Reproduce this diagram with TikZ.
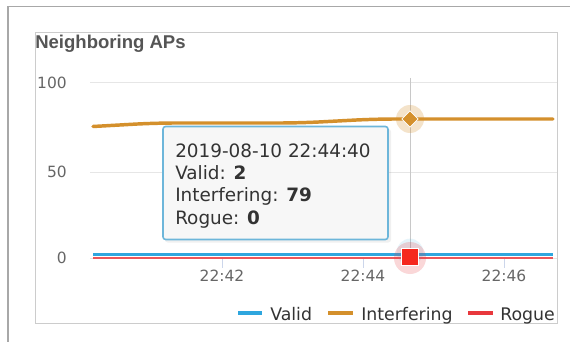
\documentclass[tikz,border=0pt]{standalone}
\usepackage{fontspec}
\setmainfont{DejaVu Sans}
\newfontfamily\titlefont{Liberation Sans}
\usetikzlibrary{shapes.geometric}
\definecolor{validc}{HTML}{2EA6DE}
\definecolor{interc}{HTML}{D4902C}
\definecolor{roguec}{HTML}{E8383D}
\definecolor{squarec}{HTML}{F5281E}
\definecolor{gridc}{HTML}{E6E6E6}
\definecolor{tickc}{HTML}{CCD6EB}
\definecolor{crossc}{HTML}{C8C8C8}
\definecolor{framec}{HTML}{A8A8A8}
\definecolor{panelc}{HTML}{CCCCCC}
\definecolor{tipborder}{HTML}{6DB6DA}
\definecolor{tipfill}{HTML}{F7F7F7}
\definecolor{titlec}{HTML}{555555}
\definecolor{axisc}{HTML}{666666}
\definecolor{textc}{HTML}{333333}
\tikzset{
  axislbl/.style={inner sep=0pt, text=axisc, font=\fontsize{11.6}{13}\selectfont},
  tiptext/.style={inner sep=0pt, anchor=base west, text=textc, font=\fontsize{13.8}{15}\selectfont},
  legtext/.style={inner sep=0pt, anchor=base west, text=textc, font=\fontsize{13}{15}\selectfont},
  gridline/.style={gridc, line width=0.75pt},
  tickmark/.style={tickc, line width=0.75pt},
  legdash/.style={line width=2.4pt},
}
\begin{document}
\begin{tikzpicture}[x=0.75pt,y=-0.75pt]
\useasboundingbox (0,0) rectangle (570,342);
\fill[white] (0,0) rectangle (570,342);
% outer frame
\draw[framec, line width=0.9pt] (8,343) -- (8,6.5) -- (571,6.5);
% inner panel
\draw[panelc, line width=0.75pt] (35,33) rectangle (557,323);
% title
\node[inner sep=0pt, anchor=base west, text=titlec, font=\titlefont\bfseries\fontsize{13.9}{16}\selectfont] (title) at (35,49) {Neighboring APs};
% grid lines
\draw[gridline] (90,83) -- (557,83);
\draw[gridline] (90,172) -- (557,172);
\draw[gridline] (90,258) -- (557,258);
% y labels
\node[axislbl, anchor=base east] (y100) at (67,88.6) {100};
\node[axislbl, anchor=base east] (y50) at (67,177.6) {50};
\node[axislbl, anchor=base east] (y0) at (67,263.6) {0};
% x ticks
\draw[tickmark] (222,258) -- (222,268);
\draw[tickmark] (363,258) -- (363,268);
\draw[tickmark] (504,258) -- (504,268);
\node[axislbl, anchor=base] (x42) at (222,281.6) {22:42};
\node[axislbl, anchor=base] (x44) at (363,281.6) {22:44};
\node[axislbl, anchor=base] (x46) at (504,281.6) {22:46};
% crosshair
\draw[crossc, line width=0.75pt] (410,78) -- (410,258);
% series
\draw[interc, line width=2.6pt, line cap=round, rounded corners=15pt] (93,126.5) -- (155,123) -- (300,123) -- (375,119) -- (553,119);
\draw[roguec!85!white, line width=1.6pt] (93,257.8) -- (553,257.8);
\draw[validc, line width=2.4pt] (93,254.5) -- (553,254.5);
% markers
\fill[interc, opacity=0.25] (410,119) circle (10.5pt);
\node[diamond, fill=interc, draw=white, line width=0.6pt, minimum size=12.5pt, inner sep=0pt] (dmark) at (410,119) {};
\fill[validc, opacity=0.12] (410,252) circle (10pt);
\fill[roguec, opacity=0.2] (410,258) circle (12pt);
\node[rectangle, fill=squarec, draw=white, line width=0.6pt, minimum size=12.5pt, inner sep=0pt] (smark) at (410,257) {};
% tooltip
\fill[black, opacity=0.06, rounded corners=2pt] (165,129) rectangle (391,242.5);
\node[draw=tipborder, fill=tipfill, line width=1.2pt, rounded corners=2pt, minimum width=168.75pt, minimum height=84.75pt, inner sep=0pt] (tip) at (275.5,183) {};
\node[tiptext] (t1) at (175,157.5) {2019-08-10 22:44:40};
\node[tiptext] (t2) at (175,179.5) {Valid: \textbf{2}};
\node[tiptext] (t3) at (175,201.5) {Interfering: \textbf{79}};
\node[tiptext] (t4) at (175,224.5) {Rogue: \textbf{0}};
% legend
\draw[validc, legdash] (238,313) -- (262,313);
\node[legtext] (lv) at (270,320) {Valid};
\draw[interc, legdash] (328,313) -- (353,313);
\node[legtext] (li) at (361,320) {Interfering};
\draw[roguec, legdash] (468,313) -- (493,313);
\node[legtext] (lr) at (500,320) {Rogue};
\end{tikzpicture}
\end{document}
